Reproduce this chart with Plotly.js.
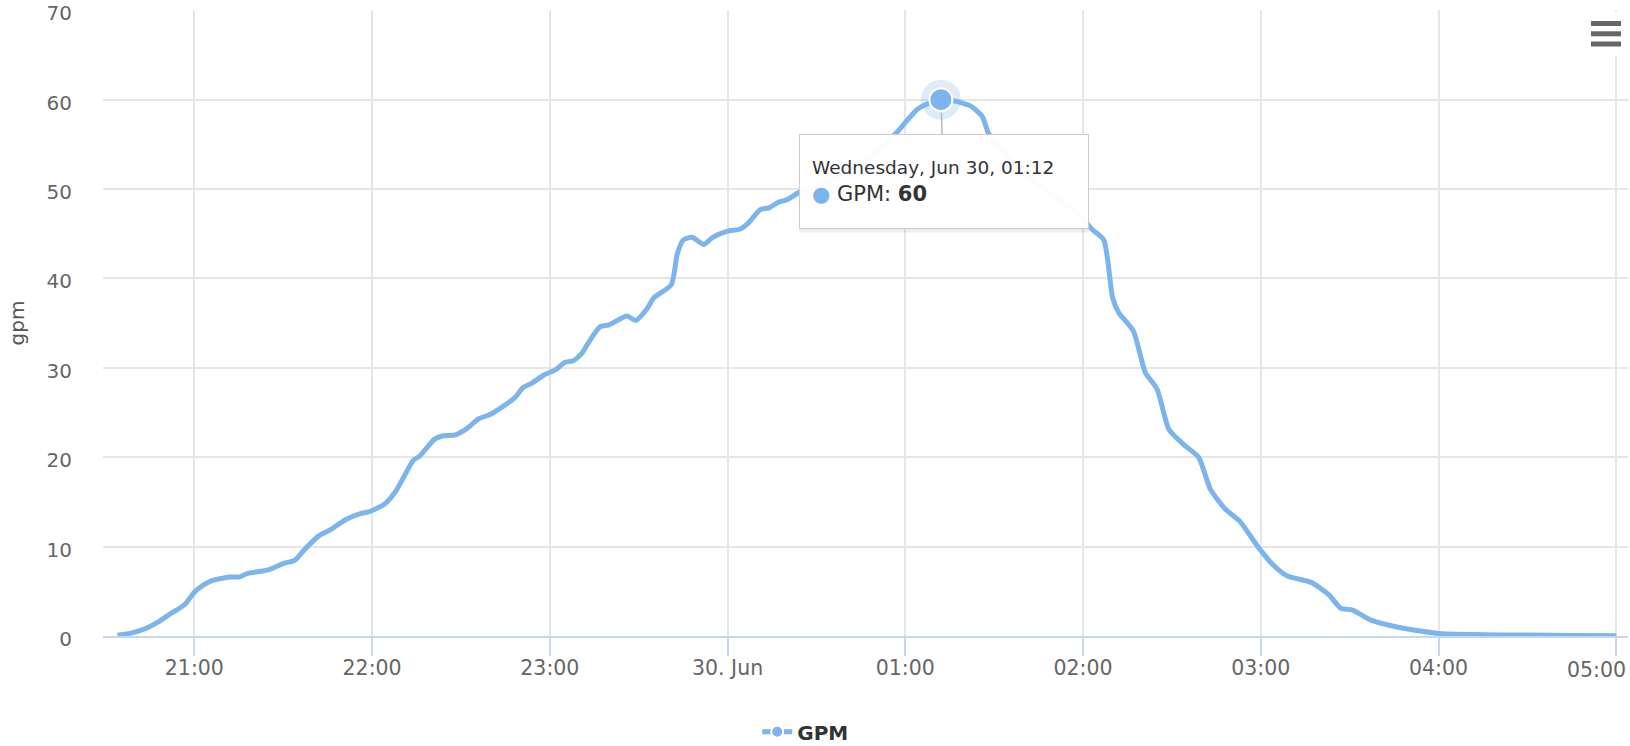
<!DOCTYPE html>
<html><head><meta charset="utf-8">
<script src="https://cdn.plot.ly/plotly-3.0.1.min.js"></script>
<style>html,body{margin:0;padding:0;background:#fff;}#chart{width:1630px;height:746px;}</style>
</head><body><div id="chart"></div>
<script>
const times = [
'2021-06-29 20:34','2021-06-29 20:39','2021-06-29 20:44','2021-06-29 20:48','2021-06-29 20:52','2021-06-29 20:55','2021-06-29 20:57',
'2021-06-29 21:00','2021-06-29 21:03','2021-06-29 21:06','2021-06-29 21:12','2021-06-29 21:15','2021-06-29 21:18','2021-06-29 21:25',
'2021-06-29 21:30','2021-06-29 21:34','2021-06-29 21:37','2021-06-29 21:42','2021-06-29 21:46','2021-06-29 21:51','2021-06-29 21:56',
'2021-06-29 21:59','2021-06-29 22:04','2021-06-29 22:08','2021-06-29 22:14','2021-06-29 22:16','2021-06-29 22:21','2021-06-29 22:24',
'2021-06-29 22:28','2021-06-29 22:32','2021-06-29 22:36','2021-06-29 22:40','2021-06-29 22:48','2021-06-29 22:51','2021-06-29 22:54',
'2021-06-29 22:58','2021-06-29 23:02','2021-06-29 23:05','2021-06-29 23:08','2021-06-29 23:11','2021-06-29 23:13','2021-06-29 23:17',
'2021-06-29 23:20','2021-06-29 23:26','2021-06-29 23:29','2021-06-29 23:33','2021-06-29 23:35','2021-06-29 23:41','2021-06-29 23:43',
'2021-06-29 23:45','2021-06-29 23:48','2021-06-29 23:52','2021-06-29 23:55','2021-06-30 00:00','2021-06-30 00:04','2021-06-30 00:07',
'2021-06-30 00:11','2021-06-30 00:14','2021-06-30 00:17','2021-06-30 00:20','2021-06-30 00:24','2021-06-30 00:30','2021-06-30 00:36',
'2021-06-30 00:42','2021-06-30 00:48','2021-06-30 00:53','2021-06-30 00:57','2021-06-30 01:04','2021-06-30 01:08','2021-06-30 01:12',
'2021-06-30 01:16','2021-06-30 01:22','2021-06-30 01:26','2021-06-30 01:28','2021-06-30 01:34','2021-06-30 01:40','2021-06-30 01:46',
'2021-06-30 01:52','2021-06-30 01:58','2021-06-30 02:03','2021-06-30 02:07','2021-06-30 02:10','2021-06-30 02:12','2021-06-30 02:17',
'2021-06-30 02:21','2021-06-30 02:25','2021-06-30 02:29','2021-06-30 02:34','2021-06-30 02:39','2021-06-30 02:43','2021-06-30 02:48',
'2021-06-30 02:53','2021-06-30 02:59','2021-06-30 03:04','2021-06-30 03:09','2021-06-30 03:17','2021-06-30 03:23','2021-06-30 03:27',
'2021-06-30 03:31','2021-06-30 03:37','2021-06-30 03:46','2021-06-30 03:55','2021-06-30 04:01','2021-06-30 04:15','2021-06-30 04:30',
'2021-06-30 04:45','2021-06-30 05:00'
];
const gpm = [
0.1,0.35,0.9,1.6,2.5,3.1,3.6,
4.9,5.7,6.2,6.6,6.6,7.0,7.4,
8.1,8.5,9.6,11.2,11.9,13.0,13.7,
13.9,14.7,16.2,19.7,20.1,22.0,22.4,
22.5,23.2,24.3,24.8,26.6,27.8,28.3,
29.2,29.8,30.6,30.8,31.7,32.8,34.6,
34.8,35.8,35.3,36.7,37.8,39.3,42.7,
44.3,44.6,43.8,44.6,45.3,45.5,46.2,
47.7,47.9,48.5,48.8,49.6,50.3,51.2,
52.3,53.6,55.0,56.3,58.9,59.6,60,
59.9,59.3,58.1,56.3,53.8,51.8,50.2,
48.8,47.4,45.5,44.3,37.8,36.2,34.1,
29.5,27.6,23.1,21.4,20.0,16.4,14.2,
12.8,10.0,8.0,6.7,6.0,4.6,3.1,
2.9,1.8,1.0,0.5,0.25,0.15,0.1,
0.06,0.03
];
const tickTimes = ['2021-06-29 21:00','2021-06-29 22:00','2021-06-29 23:00','2021-06-30 00:00','2021-06-30 01:00','2021-06-30 02:00','2021-06-30 03:00','2021-06-30 04:00','2021-06-30 05:00'];
const tickLabels = ['21:00','22:00','23:00','30. Jun','01:00','02:00','03:00','04:00','05:00'];
const yTicks = [0,10,20,30,40,50,60,70];
const seriesName = 'GPM';
const yTitle = 'gpm';
const tooltipHeader = 'Wednesday, Jun 30, 01:12';

const FONT = 'DejaVu Sans';
const BLUE = '#7cb5ec';
const peakIdx = gpm.indexOf(Math.max(...gpm));
const px = [times[peakIdx]], py = [gpm[peakIdx]];
const lastTick = tickLabels.length - 1;

// the last label is justified inside the chart edge (as the original does): drawn as an annotation
const shownLabels = tickLabels.map((t, i) => i === lastTick ? '' : t);

const traces = [
  {x: times, y: gpm, type: 'scatter', mode: 'lines', name: seriesName, showlegend: false,
   line: {color: BLUE, width: 5, shape: 'spline', smoothing: 0.6}},
  {x: px, y: py, type: 'scatter', mode: 'markers', showlegend: false,
   marker: {size: 40, color: 'rgba(124,181,236,0.25)', line: {width: 0}}},
  {x: px, y: py, type: 'scatter', mode: 'lines+markers', name: seriesName, showlegend: true,
   line: {color: BLUE, width: 5},
   marker: {size: 23, color: BLUE, line: {color: '#ffffff', width: 2}}}
];

// pixel -> paper helpers for decorative menu icon
const L = 103, R = 1628, T = 10, B = 636;
const pxX = v => (v - L) / (R - L);
const pxY = v => (B - v) / (B - T);

const shapes = [
  {type: 'rect', xref: 'paper', yref: 'paper', x0: pxX(1582), x1: pxX(1630), y0: pxY(12), y1: pxY(56),
   fillcolor: '#ffffff', line: {width: 0}, layer: 'above'}
];
[23.5, 33.8, 44].forEach(yc => shapes.push({type: 'line', xref: 'paper', yref: 'paper',
  x0: pxX(1591), x1: pxX(1621), y0: pxY(yc), y1: pxY(yc), line: {color: '#666666', width: 5}, layer: 'above'}));

const annotations = [
  {x: px[0], y: py[0], xref: 'x', yref: 'y', ax: 5, ay: 84, showarrow: false,
   text: ' ', width: 264, height: 69, borderpad: 12, borderwidth: 1, bordercolor: 'rgba(0,0,0,0)',
   bgcolor: 'rgba(0,0,0,0.07)', xshift: 3, yshift: -84 - 2},
  {x: px[0], y: py[0], xref: 'x', yref: 'y', ax: 3, ay: 82, showarrow: true, arrowhead: 0,
   arrowwidth: 1.5, arrowcolor: '#bbbbbb', standoff: 13,
   text: '<span style="font-size:18.5px">' + tooltipHeader + '</span><br><span style="color:' + BLUE + '">●</span> ' + seriesName + ': <b>' + py[0] + '</b>',
   align: 'left', valign: 'middle', width: 264, height: 69, borderpad: 12, borderwidth: 1,
   bordercolor: '#cccccc', bgcolor: 'rgba(255,255,255,0.97)',
   font: {family: FONT, size: 21, color: '#333333'}},
  {x: tickTimes[lastTick], y: 0, xref: 'x', yref: 'paper', showarrow: false,
   text: tickLabels[lastTick], xanchor: 'center', yanchor: 'middle', xshift: -20, yshift: -34,
   font: {family: FONT, size: 20.5, color: '#666666'}}
];

const layout = {
  width: 1630, height: 746,
  margin: {l: L, r: 1630 - R, t: T, b: 746 - B},
  paper_bgcolor: '#ffffff', plot_bgcolor: '#ffffff',
  font: {family: FONT, color: '#666666'},
  showlegend: true,
  legend: {orientation: 'h', xref: 'container', yref: 'container', x: 0.494, xanchor: 'center',
    y: 0.019, yanchor: 'middle', itemsizing: 'constant',
    font: {family: FONT, size: 20, color: '#333333', weight: 'bold'}},
  xaxis: {type: 'date', range: ['2021-06-29 20:29:10', '2021-06-30 05:03:57'],
    tickmode: 'array', tickvals: tickTimes, ticktext: shownLabels,
    showgrid: true, gridcolor: '#e6e6e6', gridwidth: 2,
    showline: true, linecolor: '#ccd6eb', linewidth: 2,
    ticks: 'outside', ticklen: 18, tickwidth: 2, tickcolor: '#ccd6eb',
    ticklabelstandoff: -6, ticklabeloverflow: 'allow',
    tickfont: {family: FONT, size: 20.5, color: '#666666'}, zeroline: false, fixedrange: true},
  yaxis: {range: [0, 70.03], tickmode: 'array', tickvals: yTicks,
    showgrid: true, gridcolor: '#e6e6e6', gridwidth: 2, zeroline: false, showline: false,
    ticks: '', ticklabelstandoff: 30, ticklabeloverflow: 'allow', ticklabelshift: 3,
    tickfont: {family: FONT, size: 20, color: '#666666'},
    title: {text: yTitle, standoff: 16, font: {family: FONT, size: 20, color: '#555555'}}, fixedrange: true},
  shapes: shapes,
  annotations: annotations,
  hovermode: false
};

Plotly.newPlot('chart', traces, layout, {displayModeBar: false, staticPlot: true});
</script>
</body></html>
